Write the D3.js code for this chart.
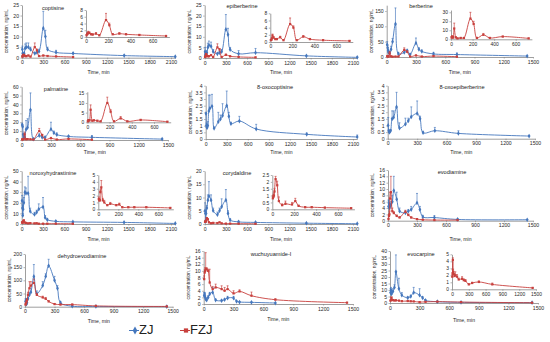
<!DOCTYPE html>
<html><head><meta charset="utf-8">
<script src="https://cdn.jsdelivr.net/npm/d3@7"></script>
<style>
html,body{margin:0;padding:0;background:#fff;}
text{font-family:"Liberation Sans",Arial,sans-serif;}
</style></head>
<body>
<script>
// sampling times (min)
const times = [5,10,15,20,30,45,60,90,120,180,210,240,300,330,360,480,720,1440,2160];
const legendNames = ["ZJ","FZJ"];
const compounds = ["coptisine","epiberberine","berberine","palmatine","8-oxocoptisine","8-oxoepiberberine","noroxyhydrastinine","corydaldine","evodiamine","dehydroevodiamine","wuchuyuamide-I","evocarpine"];

const coptisineZJ     = [4,2,1,1.5,2,4.5,5,5,4,2,2.5,3,14,10,4,2.5,2,1,0.5];
const coptisineZJErr  = [1.5,0.5,0.5,0.5,0.5,2,2,2,1,0.5,0.5,1,8,3,1,1,0.5,0.3,0.2];
const coptisineFZJ    = [0.5,0.8,1.0,1.3,1.2,0.8,0.7,1.0,0.5,5.0,3.5,0.8,1.0,null,0.8,0.6,0.3,null,null];
const coptisineFZJErr = [0.2,0.3,0.3,0.4,0.3,0.2,0.3,0.3,0.2,2.0,0.6,0.2,0.3,null,0.2,0.1,0.1,null,null];

const epiberberineZJ     = [3,1.5,1,2,2.5,5,6,5.5,3,2,2.5,3,13.5,11,4,2,2.5,1,0.3];
const epiberberineZJErr  = [2,0.5,0.5,0.5,1,2,2,2,1,0.5,0.5,1,7,3,1,1.5,2,0.3,0.1];
const epiberberineFZJ    = [0.5,0.6,1.0,1.8,1.2,0.8,0.8,1.3,0.5,5.0,4.0,0.5,1.5,null,0.8,0.5,0.3,null,null];
const epiberberineFZJErr = [0.2,0.2,0.3,0.4,0.3,0.2,0.2,0.3,0.1,1.7,0.5,0.1,0.3,null,0.2,0.1,0.1,null,null];

const berberineZJ     = [40,30,20,15,12,25,50,108,10,15,20,8,45,25,18,10,8,3,null];
const berberineZJErr  = [10,8,5,5,5,10,10,52,5,5,5,3,17,5,5,5,5,1,null];
const berberineFZJ    = [2,3,2,2,12,2,1,1.5,1.5,23,17,1.5,5,null,1.5,3,1,null,null];
const berberineFZJErr = [1,1,1,1,6,1,0.5,0.5,0.5,7,3,0.5,1.5,null,0.5,0.5,0.3,null,null];

const palmatineZJ     = [17,15,6,3,3,12,14,34,1,5,3,3,12,8,6,4,3,1,null];
const palmatineZJErr  = [2,2,1,1,1,10,10,19,0.5,2,1,1,8,2,2,1,2,0.3,null];
const palmatineFZJ    = [0.5,1,1,1,6.5,0.8,1,0.8,0.5,10,5.5,0.5,2,null,0.5,1.2,0.3,null,null];
const palmatineFZJErr = [0.2,0.3,0.3,0.3,2.5,0.2,0.3,0.2,0.1,3,1,0.1,1,null,0.1,0.3,0.1,null,null];

const oxocoptisineZJ    = [1.9,1.0,0.9,0.85,1.0,2.1,2.3,2.45,0.8,1.3,1.5,1.75,2.5,1.7,1.15,1.35,0.75,0.35,0.15];
const oxocoptisineZJErr = [0.1,0.2,0.2,0.2,0.3,1.2,1.0,0.9,0.1,0.7,0.3,0.9,1.1,0.3,0.1,0.35,0.35,0.1,0.15];

const oxoepiberberineZJ    = [1.0,0.6,0.5,0.5,0.6,1.5,1.6,2.4,0.8,1.1,1.35,1.65,1.9,1.5,0.45,0.6,0.4,0.2,null];
const oxoepiberberineZJErr = [0.6,0.1,0.1,0.1,0.1,0.6,0.5,1.1,0.4,0.45,0.2,0.75,0.95,0.2,0.1,0.25,0.2,0.05,null];

const noroxyhydrastinineZJ     = [22,15,8,14,20,30,29,29,12,9,11,14,16,6,4,2.5,2,1.5,0.5];
const noroxyhydrastinineZJErr  = [5,3,2,3,5,5,5,16,3,2,2,5,9,2,1,0.5,0.5,0.3,0.1];
const noroxyhydrastinineFZJ    = [1.5,1.3,1.3,2.5,3.2,1.3,1.0,0.6,0.8,0.6,0.7,0.3,0.3,null,0.3,0.3,0.2,null,null];
const noroxyhydrastinineFZJErr = [0.3,0.2,0.2,0.3,1.0,0.3,0.3,0.1,0.2,0.1,0.2,0.05,0.05,null,0.05,0.05,0.05,null,null];

const corydaldineZJ     = [5,4,1,4,6,9,10.5,9,5,3.5,5,6.5,9,4,1.5,0.8,0.6,0.3,0.1];
const corydaldineZJErr  = [3,1,0.5,1,1,2,5.5,2,1,1,1,3,4,1,0.5,0.3,0.2,0.1,0.05];
const corydaldineFZJ    = [0.8,0.9,1.0,1.3,2.2,1.75,0.6,0.3,0.4,0.35,0.6,0.25,0.15,null,0.15,0.12,0.08,null,null];
const corydaldineFZJErr = [0.2,0.2,0.2,0.2,0.2,0.3,0.3,0.1,0.2,0.15,0.2,0.05,0.05,null,0.05,0.03,0.02,null,null];

const evodiamineZJ     = [4.5,5.5,4,4.5,5,6,9.5,6.8,3,2.5,3,3.5,5.6,3.5,1.2,1,0.4,0.3,null];
const evodiamineZJErr  = [2,1,1,1,1,2,4.5,2.2,1,0.5,0.5,1,3,1,0.5,0.6,0.3,0.1,null];
const evodiamineFZJ    = [0.5,1.5,2,7,9,3,2.4,1.5,1.0,2.8,1.8,1.0,0.5,null,0.3,0.2,0.2,null,null];
const evodiamineFZJErr = [0.3,0.5,1,2,5,1,0.5,0.3,0.3,0.5,0.3,0.2,0.1,null,0.1,0.05,0.05,null,null];

const dehydroevodiamineZJ     = [20,25,10,15,30,45,55,115,50,80,115,155,100,70,15,2,1,0.5,null];
const dehydroevodiamineZJErr  = [10,5,5,5,5,10,15,45,10,15,10,25,15,10,5,1,0.5,0.2,null];
const dehydroevodiamineFZJ    = [8,12,18,25,45,70,80,90,45,35,30,20,10,null,8,8,3,1,null];
const dehydroevodiamineFZJErr = [3,3,5,5,10,25,15,15,5,5,5,3,2,null,2,2,1,0.3,null];

const wuchuyuamideZJ     = [2.5,3,2,1.5,1.2,2,3,3.5,1.2,1,1.3,1.8,1.8,0.8,0.6,0.5,0.3,null,null];
const wuchuyuamideZJErr  = [1,0.5,0.5,0.5,0.3,0.5,0.5,1.5,0.3,0.3,0.3,0.5,0.5,0.2,0.1,0.1,0.1,null,null];
const wuchuyuamideFZJ    = [7.5,9.5,10,10.5,10.5,10,6.5,4.5,5,4.5,4,4.5,3.2,null,3.8,2.5,1.3,0.4,null];
const wuchuyuamideFZJErr = [1,0.8,1,5,0.5,0.5,4,0.8,1,1,1,1,0.8,null,0.5,1.1,0.3,0.1,null];

const evocarpineZJ     = [8,10,7,8,9,12,24,11,6,4,5,8,6,4,2,1,0.5,0.3,null];
const evocarpineZJErr  = [3,2,1,1,2,2,13,8,2,1,1,4,5,1,0.5,0.3,0.2,0.1,null];
const evocarpineFZJ    = [1.8,2.3,4.2,2.5,2.2,1.9,2.0,1.8,1.4,1.5,1.3,1.2,0.7,null,0.9,1.05,0.7,0.2,null];
const evocarpineFZJErr = [0.3,0.5,0.3,0.4,0.3,0.3,0.5,0.3,0.2,0.3,0.2,0.2,0.1,null,0.1,0.15,0.2,0.05,null];

// tick label lists
const ticksT2100 = [0,300,600,900,1200,1500,1800,2100];
const ticksT1500 = [0,300,600,900,1200,1500];
const ticksInsetT = [0,200,400,600];

const BLUE = "#4577bd", RED = "#c8403d", AXIS = "#7f7f7f", TXT = "#262626";

const svg = d3.select("body").append("svg").attr("width",550).attr("height",342);

function toPts(vals, errs){
  return times.map((t,i)=>({t, v: vals ? vals[i] : null, e: errs ? errs[i] : null})).filter(d=>d.v!=null);
}

function drawPlot(cfg, series, isInset){
  const g = svg.append("g");
  const x = d3.scaleLinear().domain([0,cfg.xMax])
      .range([cfg.x0, cfg.x0 + (cfg.xRef-cfg.x0)*cfg.xMax/cfg.xRefVal]);
  const y = d3.scaleLinear().domain([0,cfg.yMax])
      .range([cfg.y0, cfg.y0 + (cfg.yRef-cfg.y0)*cfg.yMax/cfg.yRefVal]);
  const fs = isInset ? 4.9 : 5.1;
  const xa = g.append("g").attr("transform",`translate(0,${cfg.y0})`)
    .call(d3.axisBottom(x).tickValues(cfg.xTicks).tickFormat(d=>String(d)).tickSize(1.5).tickSizeOuter(0).tickPadding(1.5));
  const ya = g.append("g").attr("transform",`translate(${cfg.x0},0)`)
    .call(d3.axisLeft(y).tickValues(cfg.yTicks).tickFormat(d=>String(d)).tickSize(1.5).tickSizeOuter(0).tickPadding(1.5));
  [xa,ya].forEach(a=>{
    a.select(".domain").attr("stroke",AXIS).attr("stroke-width",0.75);
    a.selectAll(".tick line").attr("stroke",AXIS).attr("stroke-width",0.6);
    a.selectAll(".tick text").attr("fill",TXT).style("font-size",fs+"px").style("font-family","Liberation Sans, Arial, sans-serif");
  });
  const line = d3.line().x(d=>x(d.t)).y(d=>y(d.v)).curve(d3.curveCatmullRom.alpha(0.5));
  series.forEach(s=>{
    const pts = s.pts.filter(d=>d.t<=cfg.xMax);
    if(!pts.length) return;
    g.append("path").datum(pts).attr("d",line).attr("fill","none")
      .attr("stroke",s.color).attr("stroke-width",0.9);
    // error bars (upper)
    pts.filter(d=>d.e).forEach(d=>{
      const xx = x(d.t), ya1 = y(d.v), ya2 = y(d.v+d.e);
      g.append("line").attr("x1",xx).attr("x2",xx).attr("y1",ya1).attr("y2",ya2)
        .attr("stroke",s.color).attr("stroke-width",0.65);
      g.append("line").attr("x1",xx-1).attr("x2",xx+1).attr("y1",ya2).attr("y2",ya2)
        .attr("stroke",s.color).attr("stroke-width",0.65);
    });
    const sym = d3.symbol().type(s.shape).size(s.shape===d3.symbolDiamond ? 6.5 : 5);
    g.selectAll(null).data(pts).enter().append("path").attr("d",sym)
      .attr("transform",d=>`translate(${x(d.t)},${y(d.v)})`).attr("fill",s.color);
  });
  return {x,y};
}

const panels = [
 {name:"coptisine", zj:coptisineZJ, zjE:coptisineZJErr, fzj:coptisineFZJ, fzjE:coptisineFZJErr,
  x0:22, xRef:171, xRefVal:2100, xMax:2160, xTicks:ticksT2100, y0:57.7, yRef:5, yRefVal:25, yMax:25, yTicks:[0,5,10,15,20,25],
  title:[53,8.3], timeY:72.7,
  inset:{x0:86, xRef:152.7, xRefVal:600, xMax:750, xTicks:ticksInsetT, y0:37, yRef:10, yRefVal:8, yMax:8, yTicks:[0,2,4,6,8]}},
 {name:"epiberberine", zj:epiberberineZJ, zjE:epiberberineZJErr, fzj:epiberberineFZJ, fzjE:epiberberineFZJErr,
  x0:204.7, xRef:353, xRefVal:2100, xMax:2160, xTicks:ticksT2100, y0:58, yRef:5, yRefVal:25, yMax:25, yTicks:[0,5,10,15,20,25],
  title:[242,6.5], timeY:73,
  inset:{x0:270.3, xRef:336.3, xRefVal:600, xMax:750, xTicks:ticksInsetT, y0:42, yRef:13.3, yRefVal:8, yMax:8, yTicks:[0,2,4,6,8]}},
 {name:"berberine", zj:berberineZJ, zjE:berberineZJErr, fzj:berberineFZJ, fzjE:berberineFZJErr,
  x0:386.7, xRef:533, xRefVal:1500, xMax:1500, xTicks:ticksT1500, y0:57, yRef:11, yRefVal:150, yMax:169, yTicks:[0,50,100,150],
  title:[421,6.5], timeY:73,
  inset:{x0:451, xRef:515.7, xRefVal:600, xMax:750, xTicks:ticksInsetT, y0:39.3, yRef:12.3, yRefVal:30, yMax:32.5, yTicks:[0,10,20,30]}},
 {name:"palmatine", zj:palmatineZJ, zjE:palmatineZJErr, fzj:palmatineFZJ, fzjE:palmatineFZJErr,
  x0:21.7, xRef:168, xRefVal:1500, xMax:1500, xTicks:ticksT1500, y0:140, yRef:86.7, yRefVal:60, yMax:60, yTicks:[0,10,20,30,40,50,60],
  title:[56,89.3], timeY:152.7,
  inset:{x0:87.3, xRef:154, xRefVal:600, xMax:750, xTicks:ticksInsetT, y0:122.3, yRef:93.3, yRefVal:15, yMax:15.8, yTicks:[0,5,10,15]}},
 {name:"8-oxocoptisine", zj:oxocoptisineZJ, zjE:oxocoptisineZJErr, fzj:null, fzjE:null,
  x0:205.7, xRef:353, xRefVal:2100, xMax:2160, xTicks:ticksT2100, y0:139, yRef:85.7, yRefVal:4, yMax:4, yTicks:[0,0.5,1,1.5,2,2.5,3,3.5,4],
  title:[275,88], timeY:152.7},
 {name:"8-oxoepiberberine", zj:oxoepiberberineZJ, zjE:oxoepiberberineZJErr, fzj:null, fzjE:null,
  x0:387.7, xRef:535, xRefVal:1500, xMax:1500, xTicks:ticksT1500, y0:138.7, yRef:85.7, yRefVal:4, yMax:4, yTicks:[0,0.5,1,1.5,2,2.5,3,3.5,4],
  title:[462,88], timeY:152.7},
 {name:"noroxyhydrastinine", zj:noroxyhydrastinineZJ, zjE:noroxyhydrastinineZJErr, fzj:noroxyhydrastinineFZJ, fzjE:noroxyhydrastinineFZJErr,
  x0:21.7, xRef:171, xRefVal:2100, xMax:2160, xTicks:ticksT2100, y0:224, yRef:171, yRefVal:50, yMax:50, yTicks:[0,10,20,30,40,50],
  title:[53,174], timeY:240,
  inset:{x0:98.3, xRef:158.3, xRefVal:600, xMax:750, xTicks:ticksInsetT, y0:209.3, yRef:175, yRefVal:5, yMax:5, yTicks:[0,1,2,3,4,5]}},
 {name:"corydaldine", zj:corydaldineZJ, zjE:corydaldineZJErr, fzj:corydaldineFZJ, fzjE:corydaldineFZJErr,
  x0:204.7, xRef:353, xRefVal:2100, xMax:2160, xTicks:ticksT2100, y0:224, yRef:171, yRefVal:20, yMax:20, yTicks:[0,5,10,15,20],
  title:[237,174], timeY:240,
  inset:{x0:272.3, xRef:338, xRefVal:600, xMax:750, xTicks:ticksInsetT, y0:209.3, yRef:175, yRefVal:2.5, yMax:2.5, yTicks:[0,0.5,1,1.5,2,2.5]}},
 {name:"evodiamine", zj:evodiamineZJ, zjE:evodiamineZJErr, fzj:evodiamineFZJ, fzjE:evodiamineFZJErr,
  x0:388, xRef:533, xRefVal:1500, xMax:1500, xTicks:ticksT1500, y0:220.7, yRef:170, yRefVal:16, yMax:16, yTicks:[0,2,4,6,8,10,12,14,16],
  title:[452,172.3], timeY:240},
 {name:"dehydroevodiamine", zj:dehydroevodiamineZJ, zjE:dehydroevodiamineZJErr, fzj:dehydroevodiamineFZJ, fzjE:dehydroevodiamineFZJErr,
  x0:25, xRef:172.7, xRefVal:1500, xMax:1500, xTicks:ticksT1500, y0:306.7, yRef:254, yRefVal:200, yMax:200, yTicks:[0,50,100,150,200],
  title:[82,257], timeY:322},
 {name:"wuchuyuamide-I", zj:wuchuyuamideZJ, zjE:wuchuyuamideZJErr, fzj:wuchuyuamideFZJ, fzjE:wuchuyuamideFZJErr,
  x0:203.7, xRef:353, xRefVal:1500, xMax:1500, xTicks:ticksT1500, y0:304, yRef:251, yRefVal:16, yMax:16, yTicks:[0,2,4,6,8,10,12,14,16],
  title:[271,254.7], timeY:320},
 {name:"evocarpine", zj:evocarpineZJ, zjE:evocarpineZJErr, fzj:evocarpineFZJ, fzjE:evocarpineFZJErr,
  x0:390, xRef:538, xRefVal:1500, xMax:1500, xTicks:ticksT1500, y0:303, yRef:251, yRefVal:40, yMax:40, yTicks:[0,5,10,15,20,25,30,35,40],
  title:[421,254.3], timeY:321,
  inset:{x0:452, xRef:536, xRefVal:1500, xMax:1500, xTicks:ticksT1500, y0:289.3, yRef:254.3, yRefVal:5, yMax:5, yTicks:[0,1,2,3,4,5]}}
];

panels.forEach(p=>{
  const zjPts = toPts(p.zj, p.zjE), fzjPts = p.fzj ? toPts(p.fzj, p.fzjE) : [];
  const series = [{pts:zjPts, color:BLUE, shape:d3.symbolDiamond}];
  if(fzjPts.length) series.push({pts:fzjPts, color:RED, shape:d3.symbolSquare});
  const sc = drawPlot(p, series, false);
  // title
  svg.append("text").attr("x",p.title[0]).attr("y",p.title[1]).attr("text-anchor","middle")
    .attr("dominant-baseline","middle").style("font-size","5.6px").attr("fill","#1a1a1a").text(p.name);
  // axis titles
  const xr = sc.x.range();
  svg.append("text").attr("x",(xr[0]+xr[1])/2).attr("y",p.timeY).attr("text-anchor","middle")
    .attr("dominant-baseline","middle").style("font-size","5.1px").attr("fill",TXT).text("Time, min");
  const yr = sc.y.range();
  const yc = (yr[0]+yr[1])/2, xc = p.x0-15;
  svg.append("text").attr("transform",`translate(${xc},${yc}) rotate(-90)`).attr("text-anchor","middle")
    .attr("dominant-baseline","middle").style("font-size","4.7px").attr("fill",TXT).text("concentration, ng/mL");
  if(p.inset){
    drawPlot(p.inset, [{pts:fzjPts, color:RED, shape:d3.symbolSquare}], true);
  }
});

// legend
const lg = svg.append("g");
const legendItems = [
  {name:legendNames[0], color:BLUE, shape:d3.symbolDiamond, x:129},
  {name:legendNames[1], color:RED, shape:d3.symbolSquare, x:180}
];
legendItems.forEach(it=>{
  lg.append("line").attr("x1",it.x).attr("x2",it.x+10).attr("y1",330.5).attr("y2",330.5)
    .attr("stroke",it.color).attr("stroke-width",1);
  lg.append("path").attr("d",d3.symbol().type(it.shape).size(18)()).attr("transform",`translate(${it.x+6},330.5)`).attr("fill",it.color);
  lg.append("text").attr("x",it.x+10).attr("y",330.5).attr("dominant-baseline","middle")
    .style("font-size","13px").attr("fill","#222").text(it.name);
});
</script>
</body></html>
